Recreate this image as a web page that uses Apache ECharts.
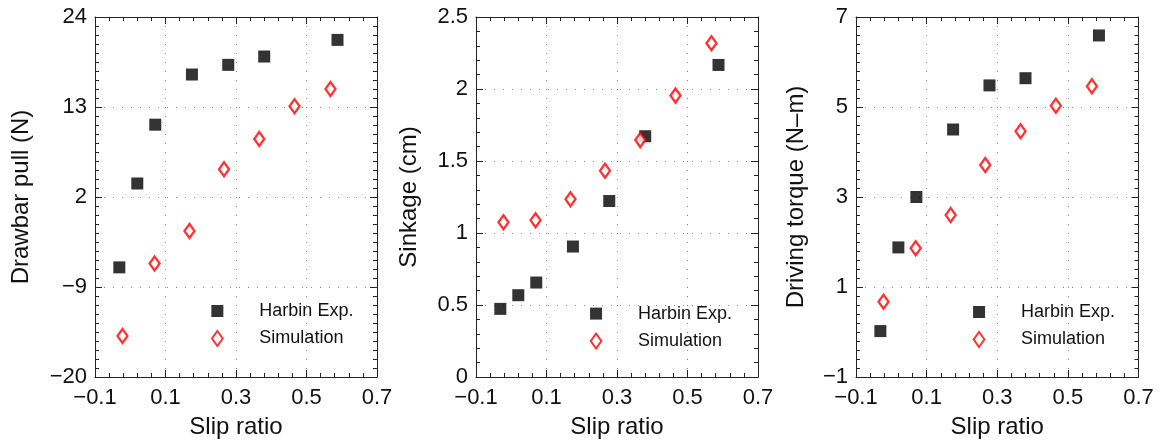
<!DOCTYPE html>
<html><head><meta charset="utf-8">
<script src="https://cdn.jsdelivr.net/npm/echarts@6/dist/echarts.min.js"></script>
<style>html,body{margin:0;padding:0;background:#fff}#c{width:1166px;height:444px}</style>
</head><body><div id="c"></div>
<script>
// ---- data ----
const slipExp = [-0.031, 0.020, 0.071, 0.175, 0.278, 0.380, 0.588];
const slipSim = [-0.022, 0.069, 0.168, 0.266, 0.366, 0.466, 0.568];
const pullExp = [-6.6, 3.65, 10.84, 16.97, 18.15, 19.17, 21.2];
const pullSim = [-15.0, -6.14, -2.16, 5.4, 9.1, 13.1, 15.2];
const sinkExp = [0.473, 0.568, 0.656, 0.906, 1.222, 1.672, 2.167];
const sinkSim = [1.074, 1.088, 1.234, 1.432, 1.645, 1.954, 2.317];
const torqueExp = [0.02, 1.88, 3.0, 4.5, 5.48, 5.64, 6.59];
const torqueSim = [0.67, 1.86, 2.6, 3.71, 4.46, 5.03, 5.46];
// ---- tick labels ----
const xTicks = [-0.1, 0.1, 0.3, 0.5, 0.7];
const pullTicks = [-20, -9, 2, 13, 24];
const sinkTicks = [0, 0.5, 1, 1.5, 2, 2.5];
const torqueTicks = [-1, 1, 3, 5, 7];
const xMinorSplit = 5, pullMinorSplit = 10, sinkMinorSplit = 5, torqueMinorSplit = 10;
const seriesNames = ['Harbin Exp.', 'Simulation'];
const xName = 'Slip ratio';
const yNames = ['Drawbar pull (N)', 'Sinkage (cm)', 'Driving torque (N\u2013m)'];

const FONT = '"Liberation Sans", Arial, Helvetica, sans-serif';
const AX = '#222';
function minorOf(ticks, n) {
  const out = [];
  for (let i = 0; i < ticks.length - 1; i++) {
    const a = ticks[i], b = ticks[i + 1];
    for (let k = 1; k < n; k++) out.push(+(a + (b - a) * k / n).toFixed(6));
  }
  return out;
}
const fmt = v => (v < 0 ? '\u2212' + String(Math.abs(v)) : String(v));
const zip = (a, b) => a.map((v, i) => [v, b[i]]);

const panels = [
  { grid: { left: 95, top: 17, width: 282, height: 361 }, yTicks: pullTicks, yMinor: pullMinorSplit, yName: yNames[0], yGap: 62, exp: pullExp, sim: pullSim, legend: { left: 211, top: 302 } },
  { grid: { left: 476, top: 17, width: 282, height: 361 }, yTicks: sinkTicks, yMinor: sinkMinorSplit, yName: yNames[1], yGap: 55, exp: sinkExp, sim: sinkSim, legend: { left: 589.7, top: 304.6 } },
  { grid: { left: 856, top: 17, width: 282.5, height: 361 }, yTicks: torqueTicks, yMinor: torqueMinorSplit, yName: yNames[2], yGap: 48, exp: torqueExp, sim: torqueSim, legend: { left: 972.7, top: 303 } }
];

const grids = [], xAxes = [], yAxes = [], series = [], legends = [];

function makeAxis(gridIndex, ticks, values, position, opts) {
  return Object.assign({
    type: 'value', gridIndex, min: ticks[0], max: ticks[ticks.length - 1], position,
    axisLine: { show: false, onZero: false, lineStyle: { color: AX, width: 1 } },
    axisTick: { show: true, inside: true, length: 4, customValues: values, lineStyle: { color: AX, width: 1 } },
    axisLabel: { show: false },
    splitLine: { show: false },
    minorTick: { show: false },
    z: 3
  }, opts || {});
}

panels.forEach((p, gi) => {
  grids.push(Object.assign({ containLabel: false }, p.grid));
  const xMinor = minorOf(xTicks, xMinorSplit);
  const yMinor = minorOf(p.yTicks, p.yMinor);
  const labelStyle = { fontFamily: FONT, fontSize: 22, color: '#111' };
  const gridLine = { show: true, lineStyle: { color: '#888', width: 1, type: [1, 8] } };
  const xi = xAxes.length;
  xAxes.push(makeAxis(gi, xTicks, xTicks, 'bottom', {
    axisLine: { show: true, onZero: false, lineStyle: { color: AX, width: 1 } },
    axisTick: { show: true, inside: true, length: 7, customValues: xTicks, lineStyle: { color: AX, width: 1 } },
    axisLabel: Object.assign({ show: true, margin: 10, customValues: xTicks, formatter: fmt }, labelStyle),
    splitLine: gridLine,
    name: xName, nameLocation: 'middle', nameGap: 38,
    nameTextStyle: { fontFamily: FONT, fontSize: 24, color: '#111' }
  }));
  xAxes.push(makeAxis(gi, xTicks, xMinor, 'bottom'));
  xAxes.push(makeAxis(gi, xTicks, xTicks, 'top', {
    axisLine: { show: true, onZero: false, lineStyle: { color: AX, width: 1 } },
    axisTick: { show: true, inside: true, length: 7, customValues: xTicks, lineStyle: { color: AX, width: 1 } }
  }));
  xAxes.push(makeAxis(gi, xTicks, xMinor, 'top'));

  const yi = yAxes.length;
  yAxes.push(makeAxis(gi, p.yTicks, p.yTicks, 'left', {
    axisLine: { show: true, onZero: false, lineStyle: { color: AX, width: 1 } },
    axisTick: { show: true, inside: true, length: 7, customValues: p.yTicks, lineStyle: { color: AX, width: 1 } },
    axisLabel: Object.assign({ show: true, margin: 8, customValues: p.yTicks, formatter: fmt }, labelStyle),
    splitLine: gridLine,
    name: p.yName, nameLocation: 'middle', nameGap: p.yGap,
    nameTextStyle: { fontFamily: FONT, fontSize: 24, color: '#111' }
  }));
  yAxes.push(makeAxis(gi, p.yTicks, yMinor, 'left'));
  yAxes.push(makeAxis(gi, p.yTicks, p.yTicks, 'right', {
    axisLine: { show: true, onZero: false, lineStyle: { color: AX, width: 1 } },
    axisTick: { show: true, inside: true, length: 7, customValues: p.yTicks, lineStyle: { color: AX, width: 1 } }
  }));
  yAxes.push(makeAxis(gi, p.yTicks, yMinor, 'right'));

  series.push({
    type: 'scatter', name: seriesNames[0], xAxisIndex: xi, yAxisIndex: yi,
    data: zip(slipExp, p.exp), symbol: 'rect', symbolSize: 12,
    itemStyle: { color: '#000' }, z: 5
  });
  series.push({
    type: 'scatter', name: seriesNames[1], xAxisIndex: xi, yAxisIndex: yi,
    data: zip(slipSim, p.sim), symbol: 'diamond', symbolSize: [10, 14],
    itemStyle: { color: '#fff', borderColor: '#ff0000', borderWidth: 2.4 }, z: 5
  });

  legends.push({
    orient: 'vertical', left: p.legend.left, top: p.legend.top, padding: 0,
    itemGap: 9.5, itemWidth: 12, itemHeight: 15, symbolKeepAspect: true, selectedMode: false,
    data: [
      { name: seriesNames[0], icon: 'path://M0 0L10 0L10 10L0 10Z' },
      { name: seriesNames[1], icon: 'path://M5 0L10 7L5 14L0 7Z' }
    ],
    formatter: n => '{t|' + n + '}',
    textStyle: { rich: { t: { fontFamily: FONT, fontSize: 18, color: '#111', padding: [0, 0, 0, 31], lineHeight: 18 } } }
  });
});

const chart = echarts.init(document.getElementById('c'), null, { renderer: 'canvas' });
chart.setOption({
  backgroundColor: '#fff',
  animation: false,
  grid: grids, xAxis: xAxes, yAxis: yAxes, series, legend: legends
});
</script></body></html>
